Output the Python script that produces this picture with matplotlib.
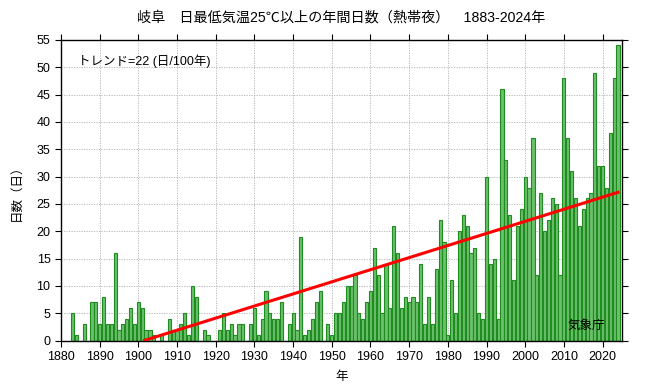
import matplotlib
matplotlib.use("Agg")
import matplotlib.pyplot as plt
import numpy as np

plt.rcParams['font.family'] = ['Liberation Sans', 'Noto Sans CJK JP', 'DejaVu Sans']

# annual number of tropical nights (Tmin >= 25C), Gifu
years = np.arange(1883, 2025)
days = [
    5, 1, 0, 3, 0, 7, 7,                    # 1883-1889
    3, 8, 3, 3, 16, 2, 3, 4, 6, 3,          # 1890s
    7, 6, 2, 2, 1, 0, 1, 0, 4, 2,           # 1900s
    2, 3, 5, 1, 10, 8, 0, 2, 1, 0,          # 1910s
    0, 2, 5, 2, 3, 1, 3, 3, 0, 3,           # 1920s
    6, 1, 4, 9, 5, 4, 4, 7, 0, 3,           # 1930s
    5, 2, 19, 1, 2, 4, 7, 9, 0, 3,          # 1940s
    1, 5, 5, 7, 10, 10, 12, 5, 4, 7,        # 1950s
    9, 17, 12, 5, 14, 6, 21, 16, 6, 8,      # 1960s
    7, 8, 7, 14, 3, 8, 3, 13, 22, 18,       # 1970s
    1, 11, 5, 20, 23, 21, 16, 17, 5, 4,     # 1980s
    30, 14, 15, 4, 46, 33, 23, 11, 21, 24,  # 1990s
    30, 28, 37, 12, 27, 20, 22, 26, 25, 12, # 2000s
    48, 37, 31, 26, 21, 24, 26, 27, 49, 32, # 2010s
    32, 28, 38, 48, 54,                     # 2020-2024
]
days = np.array(days)

title = '岐阜　日最低気温25℃以上の年間日数（熱帯夜）　1883-2024年'
trend_text = 'トレンド=22 (日/100年)'

# linear trend (drawn only where >= 0)
coef = np.polyfit(years, days, 1)
tx = np.linspace(years[0], years[-1], 500)
ty = np.polyval(coef, tx)
mask = ty >= 0

fig = plt.figure(figsize=(6.5, 3.88), dpi=100)
ax = fig.add_axes([0.0938, 0.1224, 0.8630, 0.7746])

ax.bar(years, days, width=0.82, color='#6cbf6c', edgecolor='#1e8c1e',
       linewidth=0.8, zorder=2)
ax.plot(tx[mask], ty[mask], color='#ff0000', lw=2.2, zorder=3)

ax.set_xlim(1880, 2025)
ax.set_ylim(0, 55)
ax.set_xticks(np.arange(1880, 2021, 10))
ax.set_yticks(np.arange(0, 56, 5))
ax.grid(True, color='#b0b0b0', linestyle=(0, (1.5, 1.5)), linewidth=0.6, zorder=0)
ax.set_axisbelow(True)
ax.tick_params(direction='out', length=4, width=0.8, labelsize=9,
               top=True, right=True, colors='black')
for s in ax.spines.values():
    s.set_linewidth(1.0)

ax.set_title(title, fontsize=10.2, pad=13)
ax.set_xlabel('年', fontsize=9, labelpad=6)
ax.set_ylabel('日数（日）', fontsize=9, labelpad=10)
ax.text(0.03, 0.93, trend_text, transform=ax.transAxes, fontsize=9, va='center')
ax.text(0.97, 0.05, '気象庁', transform=ax.transAxes, fontsize=9,
        ha='right', va='center')

fig.savefig('out.png', dpi=100)
